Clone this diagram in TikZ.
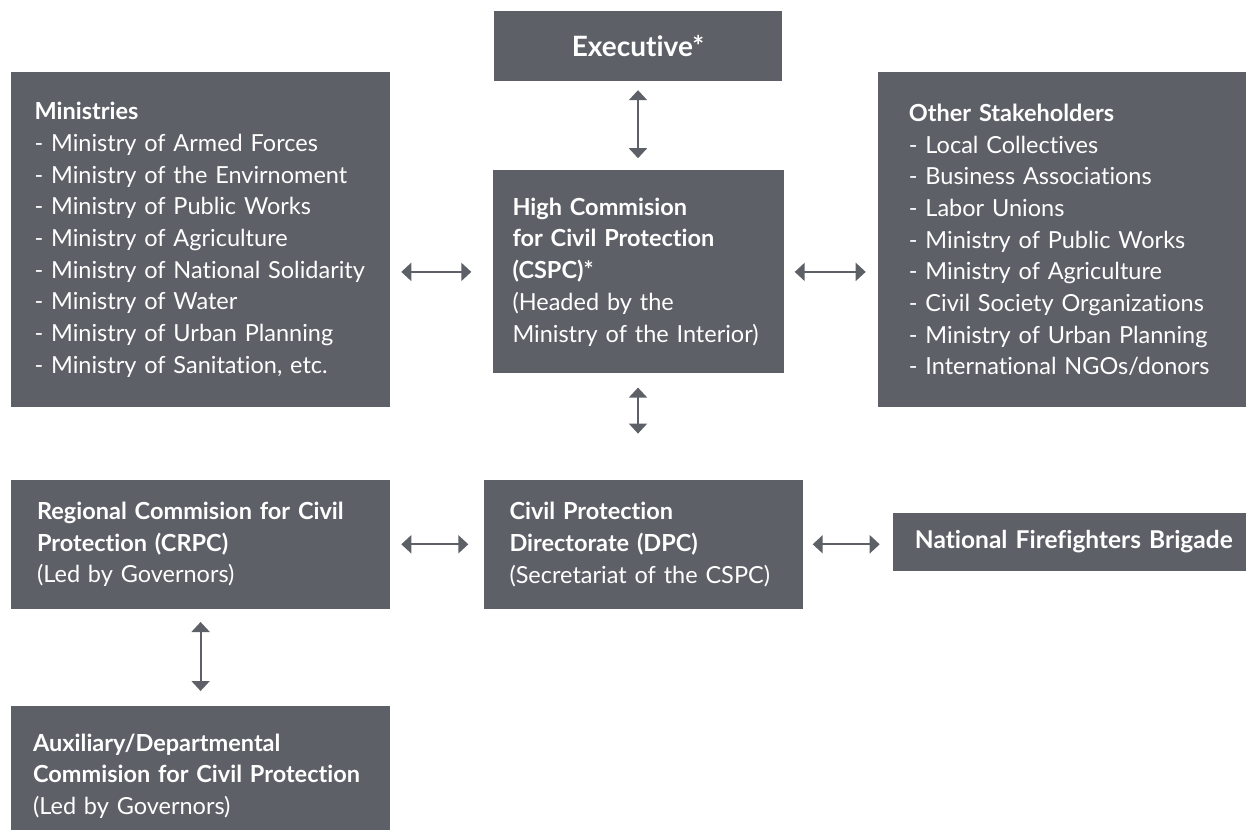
\documentclass[tikz,border=0pt]{standalone}
\usepackage{fontspec}
\setmainfont{Lato}[Ligatures=NoCommon]
\usetikzlibrary{arrows.meta, positioning}
\definecolor{boxgrey}{HTML}{5E6068}

\begin{document}
\begin{tikzpicture}[
            x=1pt, y=1pt,
            box/.style={fill=boxgrey, text=white, inner sep=0pt, align=left, font=\fontsize{23.5}{31.7}\selectfont},
            arr/.style={{Triangle[width=18pt,length=10pt]}-{Triangle[width=18pt,length=10pt]}, line width=2pt, draw=boxgrey, shorten <=11pt, shorten >=12pt}
        ]
            \useasboundingbox (0,0) rectangle (1246,-829);

            \node[box, minimum width=288pt, minimum height=70pt, text width=250pt, align=center, font=\fontsize{28}{34}\selectfont] (exec) at (638,-46) {\textbf{Executive*}};
            \node[box, below=89pt of exec, minimum width=291pt, minimum height=203pt, text width=251pt] (cspc)
                {\textbf{High Commision}\\\textbf{for Civil Protection}\\\textbf{(CSPC)*}\\(Headed by the\\Ministry of the Interior)};
            \node[box, left=102pt of cspc, yshift=32pt, minimum width=379pt, minimum height=335pt, text width=332pt] (min)
                {\textbf{Ministries}\\- Ministry of Armed Forces\\- Ministry of the Envirnoment\\- Ministry of Public Works\\- Ministry of Agriculture\\- Ministry of National Solidarity\\- Ministry of Water\\- Ministry of Urban Planning\\- Ministry of Sanitation, etc.};
            \node[box, right=94pt of cspc, yshift=32pt, minimum width=368pt, minimum height=335pt, text width=306pt] (oth)
                {\textbf{Other Stakeholders}\\- Local Collectives\\- Business Associations\\- Labor Unions\\- Ministry of Public Works\\- Ministry of Agriculture\\- Civil Society Organizations\\- Ministry of Urban Planning\\- International NGOs/donors};
            \node[box, below=106pt of cspc, xshift=5pt, minimum width=319pt, minimum height=129pt, text width=267pt] (dpc)
                {\textbf{Civil Protection}\\\textbf{Directorate (DPC)}\\(Secretariat of the CSPC)};
            \node[box, left=93pt of dpc, minimum width=379pt, minimum height=129pt, text width=327pt] (reg)
                {\textbf{Regional Commision for Civil}\\\textbf{Protection (CRPC)}\\(Led by Governors)};
            \node[box, below=97pt of reg, minimum width=379pt, minimum height=140pt, text width=335pt] (aux)
                {\textbf{Auxiliary/Departmental}\\\textbf{Commision for Civil Protection}\\(Led by Governors)};
            % runs off the right edge of the page
            \node[box, right=90pt of dpc, yshift=2.5pt, minimum width=368pt, minimum height=58pt, text width=324pt, font=\fontsize{24.5}{30}\selectfont] (nfb)
                {\textbf{National Firefighters Brigade}};

            \draw[arr, shorten <=9pt] (exec) -- (cspc);
            \draw[arr, shorten >=21pt] (min.east |- cspc.west) -- (cspc.west);
            \draw[arr] (cspc.east) -- (oth.west |- cspc.east);
            \draw[arr, shorten <=14pt, shorten >=46pt] (cspc.south) -- (cspc.south |- dpc.north);
            \draw[arr, shorten >=15pt] (reg.east |- dpc.west) -- (dpc.west);
            \draw[arr, shorten <=10pt, shorten >=13pt] (dpc.east) -- (nfb.west |- dpc.east);
            \draw[arr, shorten <=13pt, shorten >=15pt] (reg) -- (aux);
        \end{tikzpicture}
\end{document}
